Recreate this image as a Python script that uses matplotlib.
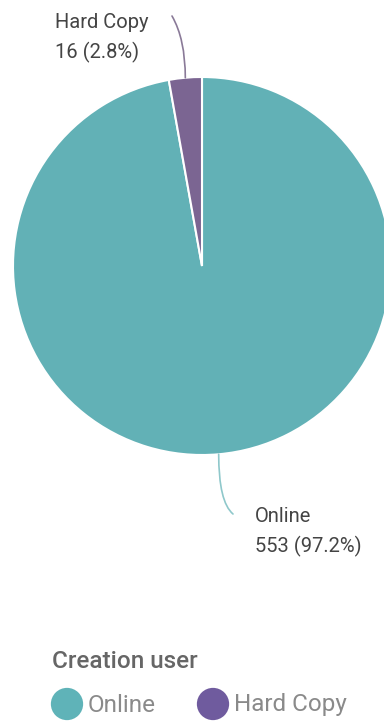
import numpy as np
import matplotlib.pyplot as plt

labels = ["Online", "Hard Copy"]
counts = [553, 16]
colors = ["#62b1b6", "#7b6592"]
legend_colors = ["#5fb3b8", "#6f5b9e"]
legend_title = "Creation user"

W, H = 384, 723
fig = plt.figure(figsize=(W / 100, H / 100), dpi=100)
ax = fig.add_axes([0, 0, 1, 1])

plt.rcParams["font.family"] = ["Roboto", "DejaVu Sans"]

cx, cy, r = 202, H - 266, 189
wedges, _ = ax.pie(counts, colors=colors, startangle=90, counterclock=False,
                   center=(cx, cy), radius=r, frame=True,
                   wedgeprops=dict(edgecolor="white", linewidth=1.5))
ax.set_xlim(0, W)
ax.set_ylim(0, H)
ax.set_aspect("equal")
ax.axis("off")

total = sum(counts)
# labels with leader lines
label_pos = {"Hard Copy": (55, 13), "Online": (255, 507)}
line_end = {"Hard Copy": (172, 16), "Online": (233, 514)}
line_col = {"Hard Copy": "#8a7a98", "Online": "#8fc8cb"}
angA = {"Hard Copy": -60, "Online": 140}
for w, lab, n in zip(wedges, labels, counts):
    ang = np.deg2rad((w.theta1 + w.theta2) / 2)
    sx, sy = cx + r * np.cos(ang), cy + r * np.sin(ang)
    ex, ey = line_end[lab]
    ax.annotate("", xy=(sx, sy), xytext=(ex, H - ey),
                arrowprops=dict(arrowstyle="-", color=line_col[lab], lw=1.2,
                                shrinkA=0, shrinkB=0,
                                connectionstyle="angle3,angleA=%d,angleB=90" % angA[lab]))
    tx, ty = label_pos[lab]
    ax.text(tx, H - ty, "%s\n%d (%.1f%%)" % (lab, n, 100 * n / total),
            fontsize=14.5, color="#444444", va="top", ha="left", linespacing=1.6)

# legend
ax.text(52, H - 662, legend_title, fontsize=17.5, fontweight="medium",
        color="#666666", va="center", ha="left")
leg_x = [67, 213]
for x, lab, c in zip(leg_x, labels, legend_colors):
    ax.scatter([x], [H - 704], s=540, color=c, edgecolors="none")
    ax.text(x + 21, H - 705, lab, fontsize=17.5, color="#8a8a8a", va="center", ha="left")

fig.savefig("out.png", dpi=100)
